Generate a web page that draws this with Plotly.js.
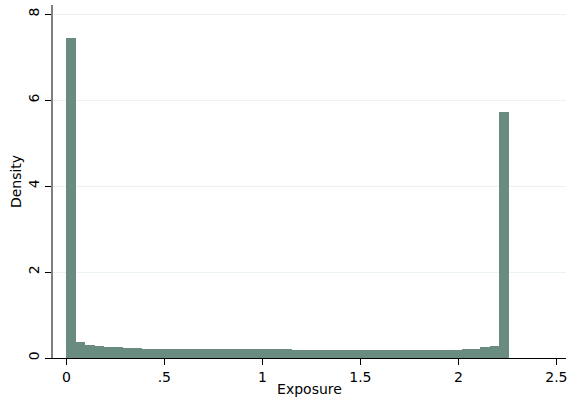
<!DOCTYPE html>
<html>
<head>
<meta charset="utf-8">
<script src="https://cdn.plot.ly/plotly-3.0.1.min.js"></script>
<style>html,body{margin:0;padding:0;background:#fff;}#chart{width:570px;height:402px;}</style>
</head>
<body>
<div id="chart"></div>
<script>
// Histogram of Exposure: bins start at 0, fixed width
const binStart = 0;
const binWidth = 0.048;
const density = [
  7.44, 0.37, 0.30, 0.28, 0.26, 0.245, 0.235, 0.225, 0.22, 0.215,
  0.21, 0.21, 0.205, 0.21, 0.205, 0.20, 0.20, 0.205, 0.20, 0.21,
  0.20, 0.20, 0.20, 0.20, 0.195, 0.19, 0.19, 0.195, 0.19, 0.19,
  0.19, 0.195, 0.19, 0.185, 0.18, 0.18, 0.175, 0.175, 0.18, 0.185,
  0.19, 0.195, 0.20, 0.22, 0.25, 0.29, 5.72
];
const xTickVals = [0, 0.5, 1, 1.5, 2, 2.5];
const xTickText = ["0", ".5", "1", "1.5", "2", "2.5"];
const yTickVals = [0, 2, 4, 6, 8];
const yTickText = ["0", "2", "4", "6", "8"];

const centers = density.map((_, i) => binStart + binWidth * (i + 0.5));

const trace = {
  type: 'bar',
  x: centers,
  y: density,
  width: density.map(() => binWidth),
  marker: {color: '#6a8b7f', line: {width: 0}},
  hoverinfo: 'skip'
};

const font = {family: 'DejaVu Sans, sans-serif', size: 14, color: '#000'};

const layout = {
  width: 570, height: 402,
  margin: {l: 53, r: 4, t: 5, b: 44},
  paper_bgcolor: '#fff', plot_bgcolor: '#fff',
  showlegend: false,
  bargap: 0,
  font: font,
  xaxis: {
    range: [-0.068, 2.549],
    tickvals: xTickVals, ticktext: xTickText,
    ticks: 'outside', ticklen: 6, tickcolor: '#000', tickwidth: 1,
    showline: true, linecolor: '#000', linewidth: 1,
    showgrid: false, zeroline: false,
    tickfont: font,
    title: {text: 'Exposure', font: font, standoff: 0}
  },
  yaxis: {
    range: [0, 8.21],
    tickvals: yTickVals, ticktext: yTickText,
    tickangle: -90,
    ticks: 'outside', ticklen: 6, tickcolor: '#000', tickwidth: 1,
    showline: true, linecolor: '#808080', linewidth: 2,
    showgrid: true, gridcolor: '#eaf2f3', gridwidth: 1,
    zeroline: false,
    tickfont: font,
    title: {text: 'Density', font: font, standoff: 2}
  }
};

Plotly.newPlot('chart', [trace], layout, {staticPlot: true, displayModeBar: false});
</script>
</body>
</html>
